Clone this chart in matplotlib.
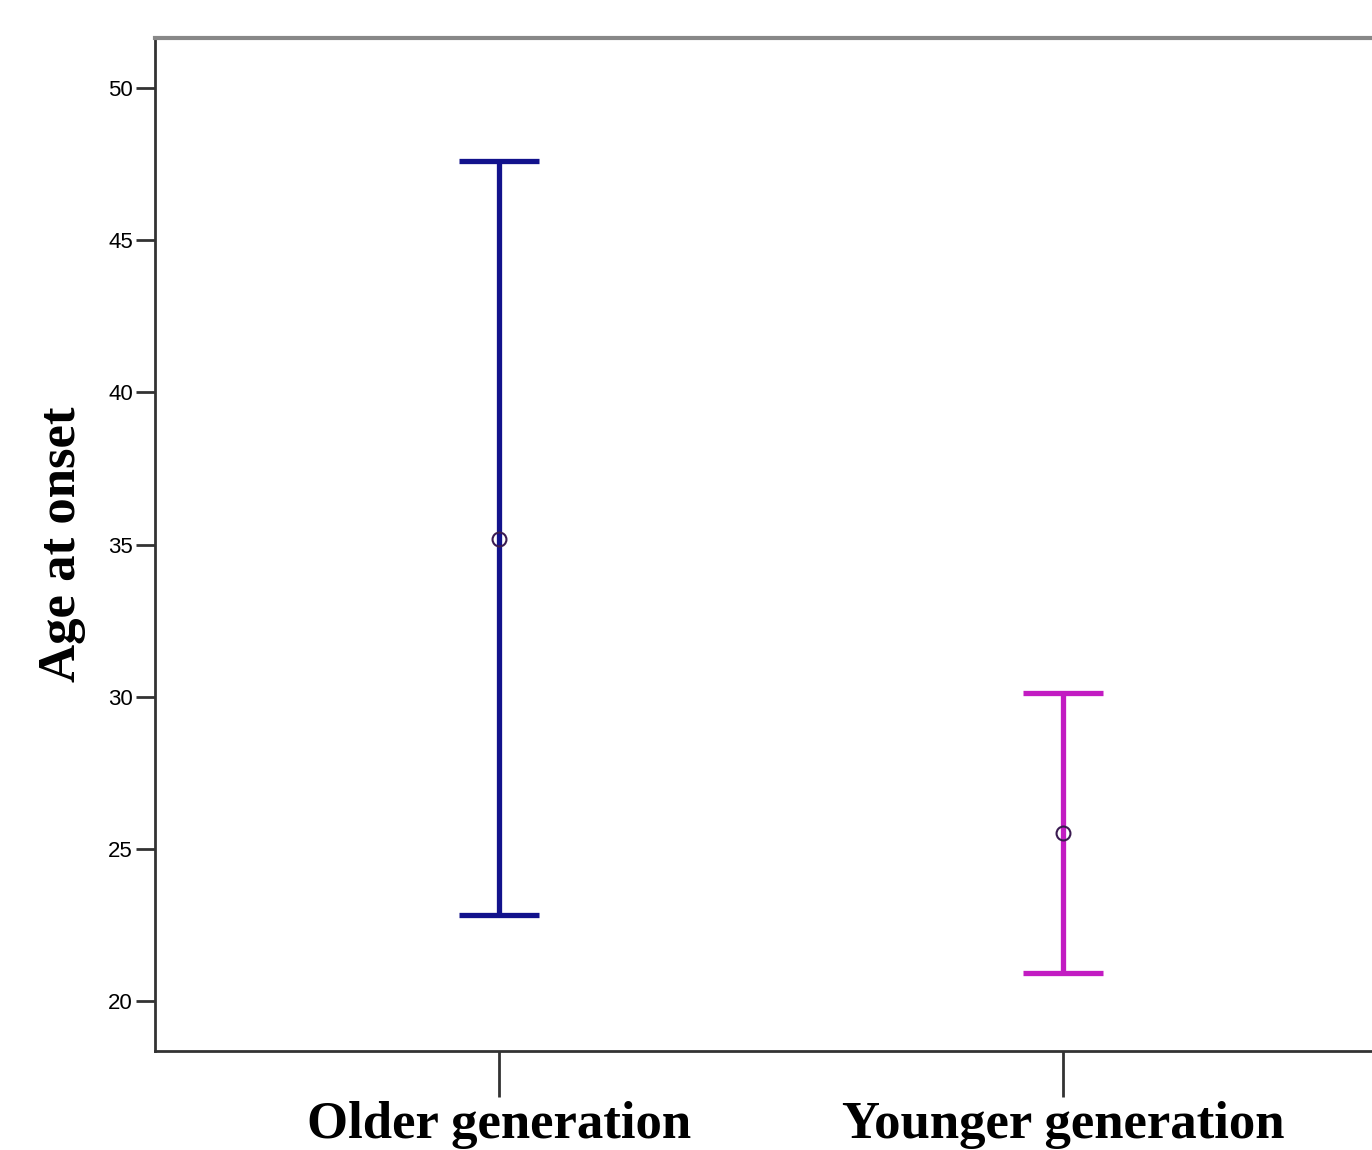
import matplotlib.pyplot as plt

# Group summary: mean and error bar limits
groups = ["Older generation", "Younger generation"]
means = [35.18, 25.52]
lower = [22.82, 20.92]
upper = [47.60, 30.12]
colors = ["#12128c", "#c21cc2"]
yticks = [20, 25, 30, 35, 40, 45, 50]

fig = plt.figure(figsize=(13.72, 11.5), dpi=100)
ax = fig.add_axes([155 / 1372, 1 - 1051 / 1150, (1407 - 155) / 1372, (1051 - 38) / 1150])

for i, g in enumerate(groups):
    err = [[means[i] - lower[i]], [upper[i] - means[i]]]
    ax.errorbar(i, means[i], yerr=err, fmt="none", ecolor=colors[i],
                elinewidth=3.8, capsize=29, capthick=3.8)
    ax.plot(i, means[i], "o", ms=10, mfc="none", mec="#3a1a50", mew=1.5)

ax.set_xlim(-0.61, 1.61)
ax.set_ylim(18.36, 51.64)
ax.set_xticks(range(len(groups)))
ax.set_xticklabels(groups, family="Liberation Serif", fontweight="bold", fontsize=38)
ax.set_yticks(yticks)
ax.set_yticklabels([str(v) for v in yticks], family="Liberation Sans", fontsize=16)
ax.tick_params(axis="x", length=33, width=2, color="#333333", pad=3)
ax.tick_params(axis="y", length=14, width=2, color="#333333", pad=2)

ax.set_ylabel("Age at onset", family="Liberation Serif", fontweight="bold",
              fontsize=38, labelpad=16)

for s in ["left", "bottom"]:
    ax.spines[s].set_color("#333333")
    ax.spines[s].set_linewidth(2)
ax.spines["top"].set_color("#888888")
ax.spines["top"].set_linewidth(3)
ax.spines["right"].set_visible(False)

fig.savefig("out.png", dpi=100)
